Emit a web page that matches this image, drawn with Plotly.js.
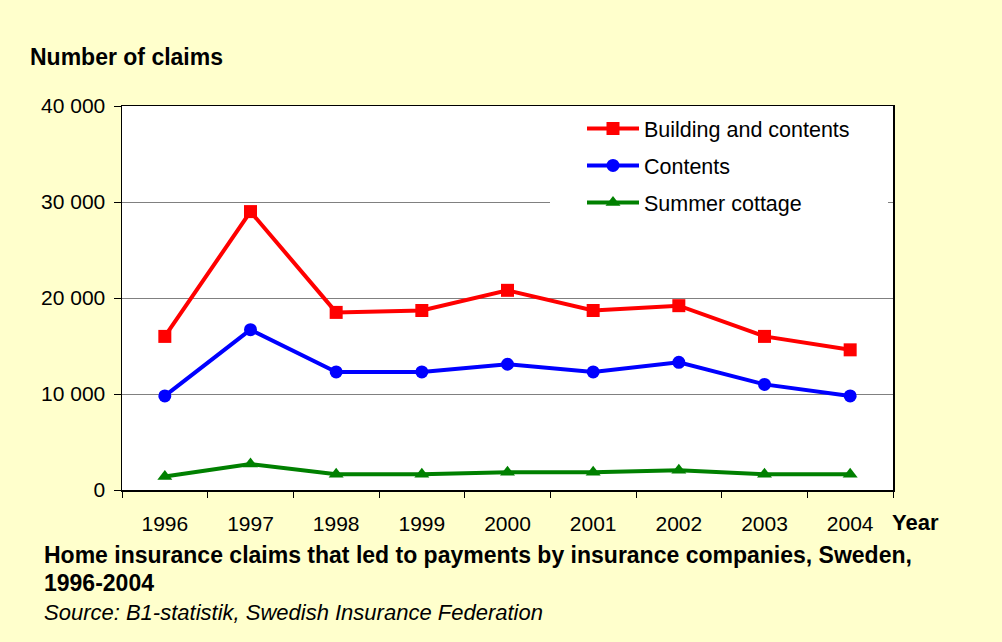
<!DOCTYPE html>
<html>
<head>
<meta charset="utf-8">
<script src="https://cdn.plot.ly/plotly-3.0.1.min.js"></script>
<style>
  body { margin: 0; background: #FFFFCC; }
  #claimsPlot { width: 1002px; height: 642px; }
</style>
</head>
<body>
<div id="claimsPlot"></div>
<script>
// Years on the x axis
const years = ["1996", "1997", "1998", "1999", "2000", "2001", "2002", "2003", "2004"];

// Number of claims per year
const buildingAndContents = [16000, 29000, 18500, 18700, 20800, 18700, 19200, 16000, 14600];
const contents = [9800, 16700, 12300, 12300, 13100, 12300, 13300, 11000, 9800];
const summerCottage = [1400, 2700, 1650, 1650, 1850, 1850, 2050, 1650, 1650];

const yTicks = [0, 10000, 20000, 30000, 40000];

const font = "Liberation Sans, Arial, sans-serif";

// plot area in pixels, used to place the loose texts
const L = 122, R = 893, T = 106, B = 490;
function px(x) { return (x - L) / (R - L); }
function py(y) { return (B - y) / (B - T); }

const traces = [{
  x: years, y: buildingAndContents, name: "Building and contents", legendgroup: "a",
  type: "scatter", mode: "lines+markers",
  line: {color: "#FF0000", width: 4},
  marker: {symbol: "square", size: 13, color: "#FF0000"}
}, {
  x: years, y: contents, name: "Contents", legendgroup: "b",
  type: "scatter", mode: "lines+markers",
  line: {color: "#0000FF", width: 4},
  marker: {symbol: "circle", size: 13, color: "#0000FF"}
}, {
  x: years, y: summerCottage, name: "Summer cottage", legendgroup: "c",
  type: "scatter", mode: "lines+markers",
  line: {color: "#008000", width: 4},
  marker: {symbol: "triangle-up", size: 13, color: "#008000"}
}];

const layout = {
  width: 1002, height: 642,
  paper_bgcolor: "#FFFFCC",
  plot_bgcolor: "#FFFFFF",
  margin: {l: L, r: 1002 - R, t: T, b: 642 - B},
  font: {family: font, size: 21, color: "#000000"},
  separators: ". ",
  showlegend: true,
  legend: {
    x: px(582), y: py(108), xanchor: "left", yanchor: "top",
    bgcolor: "rgba(0,0,0,0)", borderwidth: 0,
    font: {family: font, size: 21.5, color: "#000000"},
    itemwidth: 52, tracegroupgap: 6
  },
  // white box behind the legend, it hides the grid line there
  shapes: [{
    type: "rect", xref: "paper", yref: "paper", layer: "above",
    x0: px(550), x1: px(888), y0: py(108), y1: py(226),
    fillcolor: "#FFFFFF", line: {width: 0}
  }],
  xaxis: {
    type: "category", range: [-0.5, 8.5],
    tickson: "boundaries", ticks: "outside", ticklen: 6, tickcolor: "#000000",
    showgrid: false, showline: true, linecolor: "#000000", linewidth: 1.5,
    mirror: true, ticklabelstandoff: 14, fixedrange: true
  },
  yaxis: {
    range: [0, 40000], tickvals: yTicks, tickformat: ",",
    ticks: "outside", ticklen: 7, tickcolor: "#000000",
    showgrid: true, gridcolor: "#808080", gridwidth: 1,
    showline: true, linecolor: "#000000", linewidth: 1.5, mirror: true,
    zeroline: false, ticklabelstandoff: 4, fixedrange: true
  },
  annotations: [
    {text: "<b>Number of claims</b>", x: px(28), y: py(57), xref: "paper", yref: "paper",
     xanchor: "left", yanchor: "middle", showarrow: false, font: {size: 23}},
    {text: "<b>Year</b>", x: px(890), y: py(522), xref: "paper", yref: "paper",
     xanchor: "left", yanchor: "middle", showarrow: false, font: {size: 22}},
    {text: "<b>Home insurance claims that led to payments by insurance companies, Sweden,</b>",
     x: px(42), y: py(555), xref: "paper", yref: "paper",
     xanchor: "left", yanchor: "middle", showarrow: false, font: {size: 23}},
    {text: "<b>1996-2004</b>", x: px(42), y: py(583), xref: "paper", yref: "paper",
     xanchor: "left", yanchor: "middle", showarrow: false, font: {size: 23}},
    {text: "<i>Source: B1-statistik, Swedish Insurance Federation</i>",
     x: px(42), y: py(612), xref: "paper", yref: "paper",
     xanchor: "left", yanchor: "middle", showarrow: false, font: {size: 22}}
  ]
};

Plotly.newPlot("claimsPlot", traces, layout, {displayModeBar: false, staticPlot: true});
</script>
</body>
</html>
